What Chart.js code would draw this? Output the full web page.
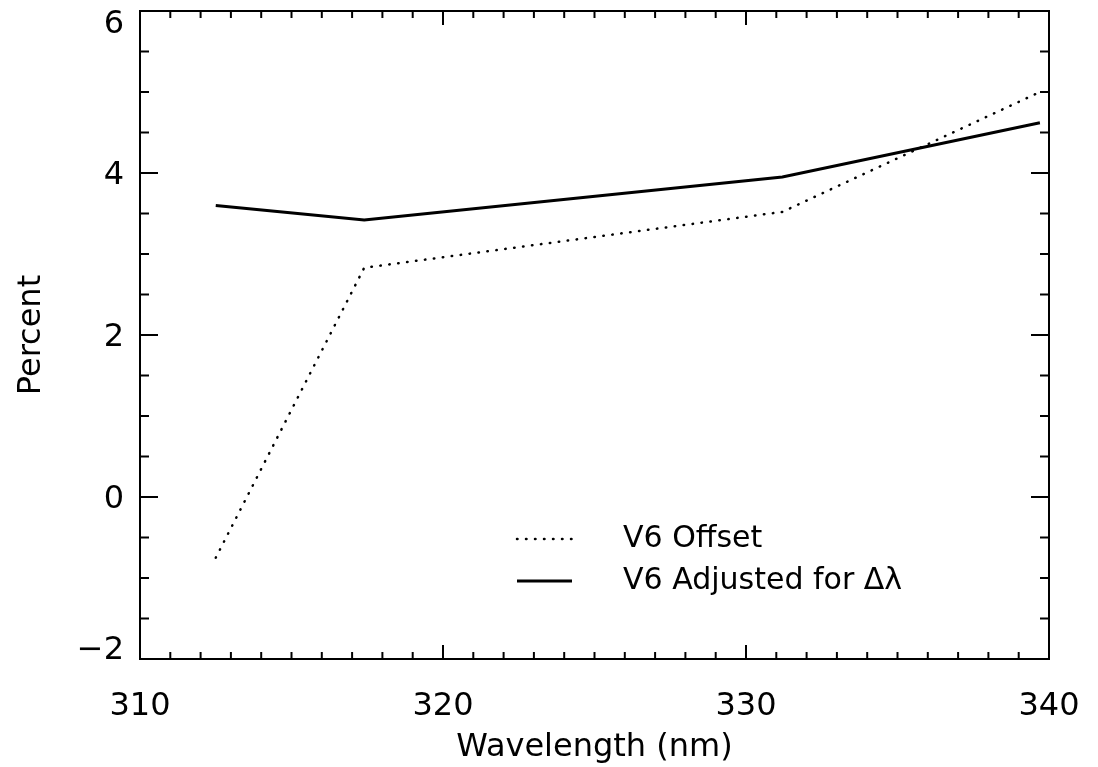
<!DOCTYPE html>
<html>
<head>
<meta charset="utf-8">
<script src="https://cdn.jsdelivr.net/npm/chart.js@4.4.1/dist/chart.umd.min.js"></script>
<style>
  html, body { margin: 0; padding: 0; background: #fff; }
  #wrap { width: 1098px; height: 767px; }
</style>
</head>
<body>
<div id="wrap"><canvas id="chart"></canvas></div>
<script>
// ===== data =====
const wavelength = [312.5, 317.4, 331.2, 339.7];
const offsetV6 = [-0.75, 2.83, 3.52, 5.0];
const adjustedV6 = [3.6, 3.42, 3.95, 4.62];
const seriesLabels = ['V6 Offset', 'V6 Adjusted for \u0394\u03bb'];
const xTicks = [310, 320, 330, 340];
const yTicks = [-2, 0, 2, 4, 6];

const FONT = 'DejaVu Sans';

// box + inward IDL style ticks, y labels kept inside the frame, legend
const frameTicks = {
  id: 'frameTicks',
  afterDatasetsDraw(chart) {
    const { ctx, chartArea: a, scales: { x, y } } = chart;
    ctx.save();
    ctx.strokeStyle = '#000';
    ctx.lineWidth = 2;
    ctx.strokeRect(a.left, a.top, a.right - a.left, a.bottom - a.top);

    function seg(x1, y1, x2, y2) {
      ctx.beginPath();
      ctx.moveTo(x1, y1);
      ctx.lineTo(x2, y2);
      ctx.stroke();
    }

    for (let v = xTicks[0]; v <= xTicks[xTicks.length - 1]; v += 1) {
      const px = x.getPixelForValue(v);
      const len = v % 10 === 0 ? 14 : 7;
      seg(px, a.bottom, px, a.bottom - len);
      seg(px, a.top, px, a.top + len);
    }
    for (let v = yTicks[0]; v <= yTicks[yTicks.length - 1]; v += 0.5) {
      const py = y.getPixelForValue(v);
      const len = v % 2 === 0 ? 18 : 9;
      seg(a.left, py, a.left + len, py);
      seg(a.right, py, a.right - len, py);
    }

    // y tick labels (IDL keeps the end ones inside the axis span)
    ctx.fillStyle = '#000';
    ctx.font = '32px "' + FONT + '"';
    ctx.textAlign = 'right';
    ctx.textBaseline = 'middle';
    yTicks.forEach(v => {
      const py = Math.min(Math.max(y.getPixelForValue(v) + 3, a.top + 14), a.bottom - 8);
      ctx.fillText(v < 0 ? '\u2212' + Math.abs(v) : String(v), a.left - 16, py);
    });

    // legend
    ctx.font = '30px "' + FONT + '"';
    ctx.textAlign = 'left';
    const lx = a.left + 377, ty = a.top + 528;
    chart.data.datasets.forEach((ds, i) => {
      const yy = ty + i * 42;
      ctx.setLineDash(ds.borderDash || []);
      ctx.lineCap = ds.borderCapStyle || 'butt';
      ctx.lineWidth = ds.borderWidth;
      seg(lx, yy, lx + 55, yy);
      ctx.setLineDash([]);
      ctx.fillText(ds.label, lx + 106, yy);
    });
    ctx.restore();
  }
};

const ctx = document.getElementById('chart').getContext('2d');
const chart = new Chart(ctx, {
  type: 'line',
  data: {
    datasets: [{
      label: seriesLabels[0],
      data: wavelength.map((w, i) => ({ x: w, y: offsetV6[i] })),
      borderColor: '#000',
      borderWidth: 2.5,
      borderDash: [0.5, 8.5],
      borderCapStyle: 'round',
      pointRadius: 0,
      tension: 0
    }, {
      label: seriesLabels[1],
      data: wavelength.map((w, i) => ({ x: w, y: adjustedV6[i] })),
      borderColor: '#000',
      borderWidth: 3,
      pointRadius: 0,
      tension: 0
    }]
  },
  options: {
    responsive: true,
    maintainAspectRatio: false,
    animation: false,
    layout: { padding: { top: 11, right: 49, left: 0, bottom: 0 } },
    plugins: {
      legend: { display: false },
      tooltip: { enabled: false }
    },
    scales: {
      x: {
        type: 'linear',
        min: xTicks[0],
        max: xTicks[xTicks.length - 1],
        afterBuildTicks: s => { s.ticks = xTicks.map(v => ({ value: v })); },
        afterFit: s => { s.height = 108; s.paddingLeft = 0; s.paddingRight = 0; },
        grid: { display: false, drawTicks: false },
        border: { display: false },
        ticks: { color: '#000', padding: 28, maxRotation: 0, font: { family: FONT, size: 32 } },
        title: {
          display: true,
          text: 'Wavelength (nm)',
          color: '#000',
          padding: { top: 0, bottom: 0 },
          font: { family: FONT, size: 32 }
        }
      },
      y: {
        type: 'linear',
        min: yTicks[0],
        max: yTicks[yTicks.length - 1],
        afterBuildTicks: s => { s.ticks = yTicks.map(v => ({ value: v })); },
        afterFit: s => { s.width = 140; s.paddingTop = 0; s.paddingBottom = 0; },
        grid: { display: false, drawTicks: false },
        border: { display: false },
        ticks: { display: false },
        title: {
          display: true,
          text: 'Percent',
          color: '#000',
          padding: { top: 12, bottom: 0 },
          font: { family: FONT, size: 32 }
        }
      }
    }
  },
  plugins: [frameTicks]
});
</script>
</body>
</html>
